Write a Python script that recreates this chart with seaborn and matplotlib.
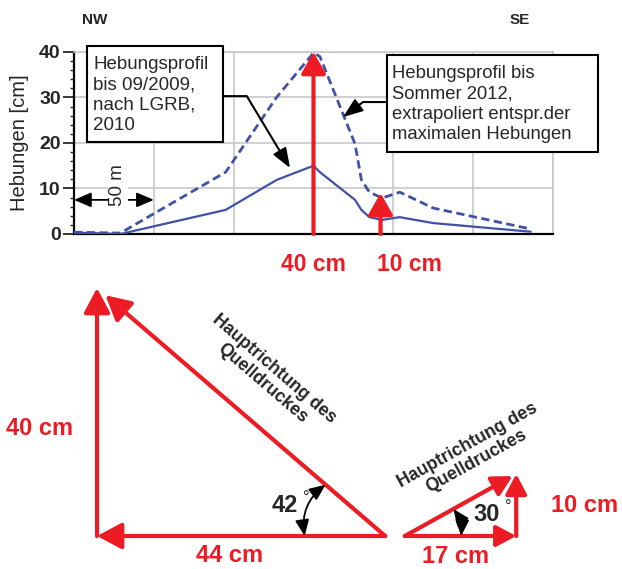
import numpy as np
import pandas as pd
import matplotlib.pyplot as plt
from matplotlib.patches import Rectangle
from matplotlib.ticker import MultipleLocator
import seaborn as sns

sns.set_style('white')
plt.rcParams['font.family'] = ['Liberation Sans', 'DejaVu Sans']

RED = '#ED1C24'
BLUE = '#3F51A8'

# Hebungsprofil NW -> SE (Entfernung in m, Hebung in cm)
dist = [0, 29, 95, 127, 150, 154, 176, 180, 185, 193, 204, 225, 286]
heb_2009 = [0.3, 0.0, 5.3, 11.9, 15.0, 13.6, 7.5, 5.3, 3.7, 3.1, 3.7, 2.4, 0.5]
heb_2012 = [0.4, 0.2, 13.6, 30.1, 39.8, 39.0, 19.8, 11.9, 9.2, 7.9, 9.2, 5.7, 1.1]
direction_labels = ['NW', 'SE']
arrow_pos = [150, 192]
arrow_height = [40, 9]
arrow_labels = ['40 cm', '10 cm']

# Vektordreiecke (cm)
big_h, big_v = 44, 40
small_h, small_v = 17, 10
angle_labels = ['42', '30']
box_2009 = 'Hebungsprofil\nbis 09/2009,\nnach LGRB,\n2010'
box_2012 = 'Hebungsprofil bis\nSommer 2012,\nextrapoliert entspr.der\nmaximalen Hebungen'
direction_text = 'Hauptrichtung des\nQuelldruckes'

fig = plt.figure(figsize=(6.22, 5.69), dpi=100)

# ---------------- top: profile ----------------
ax = fig.add_axes([74 / 622, 1 - 234 / 569, 479 / 622, 182 / 569])
df = pd.DataFrame({'dist': dist, 'h2009': heb_2009, 'h2012': heb_2012})
sns.lineplot(data=df, x='dist', y='h2009', ax=ax, color=BLUE, lw=1.6, zorder=3)
sns.lineplot(data=df, x='dist', y='h2012', ax=ax, color=BLUE, lw=2.0,
             linestyle=(0, (3, 1.6)), zorder=3)

ax.set_xlim(0, 300)
ax.set_ylim(0, 40)
ax.set_xticks(np.arange(0, 301, 50))
ax.set_xticklabels([])
ax.set_yticks(range(0, 41, 10))
ax.yaxis.set_minor_locator(MultipleLocator(2))
ax.grid(True, which='major', color='#C8C8C8', lw=1.2)
ax.tick_params(axis='x', length=0)
ax.tick_params(axis='y', which='major', left=True, length=8, width=1.3, pad=1.5, labelsize=14)
ax.tick_params(axis='y', which='minor', left=True, length=3, width=1.0)
for lbl in ax.get_yticklabels():
    lbl.set_fontweight('bold')
for s in ['left', 'bottom']:
    ax.spines[s].set(color='black', lw=1.6)
for s in ['top', 'right']:
    ax.spines[s].set(color='#C8C8C8', lw=1.2)
ax.set_xlabel('')
ax.set_ylabel('Hebungen [cm]', fontsize=14.5)
ax.yaxis.set_label_coords(-0.094, 0.5)

# red uplift arrows
label_x = [150, 210]
for x, h, lab, lx in zip(arrow_pos, arrow_height, arrow_labels, label_x):
    ax.annotate('', xy=(x, h), xytext=(x, 0),
                arrowprops=dict(arrowstyle='-|>,head_length=0.65,head_width=0.37',
                                mutation_scale=20, lw=3, color=RED, shrinkA=0, shrinkB=0),
                annotation_clip=False, zorder=4)
    ax.text(lx, -6.8, lab, color=RED, fontsize=16.5, fontweight='bold',
            ha='center', va='center', clip_on=False)

ax.text(13, 47, direction_labels[0], fontsize=11, fontweight='bold', ha='center', va='center')
ax.text(279, 47, direction_labels[1], fontsize=11, fontweight='bold', ha='center', va='center')

# 50 m scale
ax.annotate('', xy=(50, 7.5), xytext=(0, 7.5),
            arrowprops=dict(arrowstyle='<|-|>,head_length=0.7,head_width=0.3',
                            mutation_scale=15, lw=1.3, color='black', shrinkA=0, shrinkB=0),
            zorder=4)
ax.text(27.5, 10.8, '50 m', rotation=90, fontsize=13.5, ha='center', va='center', zorder=5,
        bbox=dict(boxstyle='square,pad=0.1', fc='white', ec='none'))

# text boxes with leaders
for (bx0, bx1, by0, by1) in [(8.1, 93.3, 20.2, 41.3), (196, 328, 18.0, 39.3)]:
    ax.add_patch(Rectangle((bx0, by0), bx1 - bx0, by1 - by0, fc='white', ec='black',
                           lw=1.5, zorder=6, clip_on=False))
ax.text(11.9, 30.5, box_2009, fontsize=13.5, linespacing=1.25, ha='left', va='center',
        zorder=7, clip_on=False)
ax.text(199, 28.5, box_2012, fontsize=13.3, linespacing=1.25, ha='left', va='center',
        zorder=7, clip_on=False)
lead_kw = dict(arrowstyle='-|>,head_length=0.8,head_width=0.3', mutation_scale=15,
               lw=1.5, color='black', shrinkA=0, shrinkB=0)
ax.annotate('', xy=(135.3, 14.5), xytext=(93.3, 30.3),
            arrowprops=dict(connectionstyle='angle,angleA=0,angleB=121,rad=0', **lead_kw),
            zorder=5)
ax.annotate('', xy=(168.5, 25.7), xytext=(196, 29.0),
            arrowprops=dict(connectionstyle='angle,angleA=180,angleB=37,rad=0', **lead_kw),
            zorder=5)

# ---------------- bottom: vector triangles ----------------
ax2 = fig.add_axes([0, 0, 1, 299 / 569])
ax2.set_xlim(-97 / 6.55, (622 - 97) / 6.55)
ax2.set_ylim((536 - 569) / 6.2, (536 - 270) / 6.2)
ax2.axis('off')


def vec(start, end, ms=20, shrink=0):
    ax2.annotate('', xy=end, xytext=start,
                 arrowprops=dict(arrowstyle='-|>,head_length=0.75,head_width=0.4',
                                 mutation_scale=ms, lw=3, color=RED,
                                 shrinkA=0, shrinkB=shrink))


vec((big_h, 0), (0, 0))
vec((0, 0), (0, big_v))
vec((big_h, 0), (0, big_v), shrink=8)

x0 = big_h + 3
vec((x0, 0), (x0 + small_h, 0), ms=16)
vec((x0 + small_h, 0), (x0 + small_h, small_v), ms=16)
vec((x0, 0), (x0 + small_h, small_v), ms=16, shrink=3)

# angle arcs
arc_kw = dict(arrowstyle='<|-|>,head_length=0.7,head_width=0.3', mutation_scale=14,
              lw=1.3, color='black', shrinkA=0, shrinkB=0)
th_big = np.arctan2(big_v, big_h)
r = 12.3
ax2.annotate('', xy=(big_h - r * np.cos(th_big), r * np.sin(th_big)), xytext=(big_h - r, 0),
             arrowprops=dict(connectionstyle='arc3,rad=-0.3', **arc_kw))
th_small = np.arctan2(small_v, small_h)
r = 8.6
ax2.annotate('', xy=(x0 + r * np.cos(th_small), r * np.sin(th_small)), xytext=(x0 + r, 0),
             arrowprops=dict(connectionstyle='arc3,rad=0.18', **arc_kw))

lab_kw = dict(color=RED, fontsize=17, fontweight='bold', ha='center', va='center')
ax2.text(-8.7, 17.4, f'{big_v} cm', **lab_kw)
ax2.text(big_h / 2 - 1.7, -3.2, f'{big_h} cm', **lab_kw)
ax2.text(x0 + small_h / 2 - 0.8, -3.3, f'{small_h} cm', **lab_kw)
ax2.text(x0 + small_h + 10.5, 5.0, f'{small_v} cm', **lab_kw)

ax2.text(28.7, 5.0, angle_labels[0], fontsize=17, fontweight='bold', ha='center', va='center')
ax2.text(32.0, 6.0, '°', fontsize=12, ha='center', va='center')
ax2.text(59.5, 3.4, angle_labels[1], fontsize=17, fontweight='bold', ha='center', va='center')
ax2.text(62.8, 4.6, '°', fontsize=12, ha='center', va='center')

ax2.text(26.2, 25.8, direction_text, rotation=np.degrees(np.arctan2(-big_v, big_h)),
         transform_rotates_text=True, rotation_mode='anchor', fontsize=12.8, fontweight='bold',
         ha='center', va='center', linespacing=1.1)
ax2.text(57.2, 13.4, direction_text, rotation=np.degrees(th_small),
         transform_rotates_text=True, rotation_mode='anchor', fontsize=12.8, fontweight='bold',
         ha='center', va='center', linespacing=1.1)

fig.savefig('out.png', dpi=100)
